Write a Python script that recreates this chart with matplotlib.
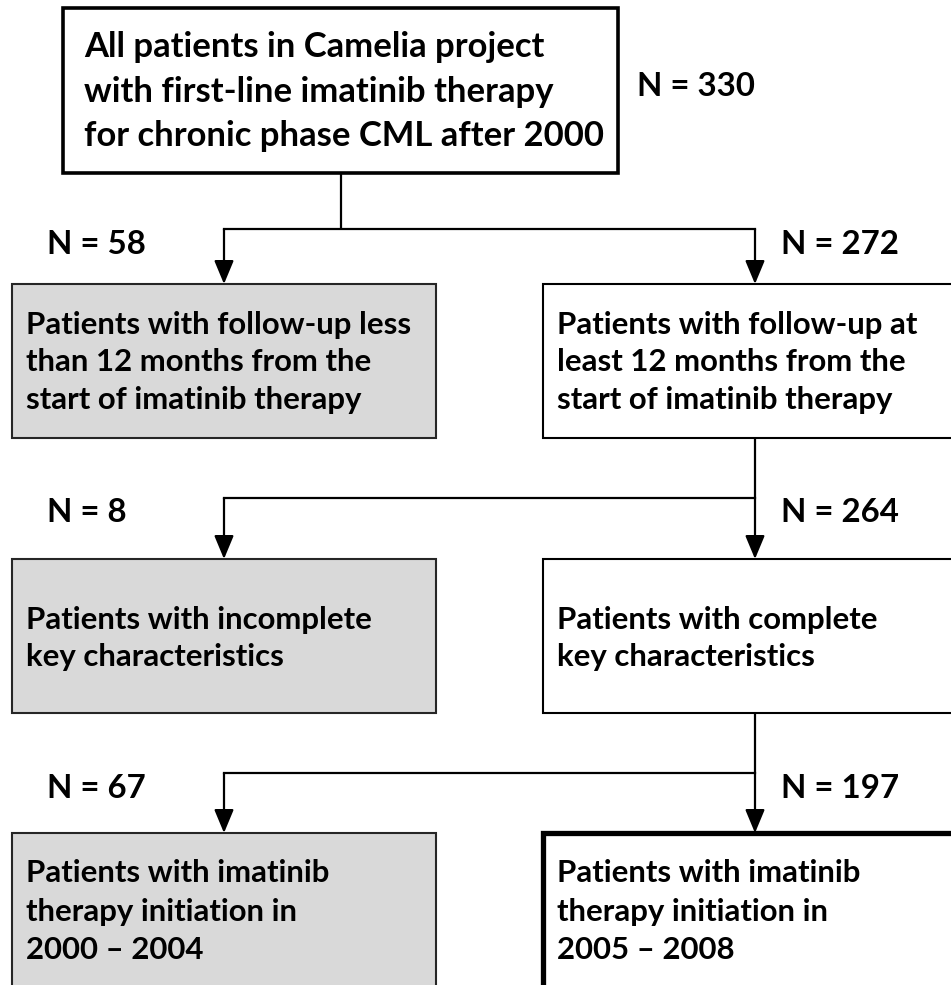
import matplotlib
matplotlib.use("Agg")
import matplotlib.pyplot as plt
from matplotlib.patches import Rectangle

# ---------------- data ----------------
top_lines = ["All patients in Camelia project",
             "with first-line imatinib therapy",
             "for chronic phase CML after 2000"]
top_n = 330

left_lines = [["Patients with follow-up less", "than 12 months from the", "start of imatinib therapy"],
              ["Patients with incomplete", "key characteristics", ""],
              ["Patients with imatinib", "therapy initiation in", "2000 \u2013 2004"]]
left_n = [58, 8, 67]

right_lines = [["Patients with follow-up at", "least 12 months from the", "start of imatinib therapy"],
               ["Patients with complete", "key characteristics", ""],
               ["Patients with imatinib", "therapy initiation in", "2005 \u2013 2008"]]
right_n = [272, 264, 197]

# ---------------- layout (pixels) ----------------
W, H = 951, 985
FONT = "Lato"
top_box = (63, 8, 618, 173)
row_tops = [284, 559, 833]
row_bots = [438, 713, 1000]
split_y = [229, 498, 773]
lx0, lx1 = 12, 436
rx0, rx1 = 543, 970
left_arrow_x = 224
right_arrow_x = 755
top_stem_x = 341

fig = plt.figure(figsize=(W / 100, H / 100), dpi=100)
ax = fig.add_axes([0, 0, 1, 1])
ax.set_xlim(0, W)
ax.set_ylim(H, 0)
ax.axis("off")
renderer = fig.canvas.get_renderer()


def fit_size(text, width_px, start=20):
    t = ax.text(0, 0, text, fontsize=start, fontweight="bold", family=FONT)
    w = t.get_window_extent(renderer).width
    t.remove()
    return start * width_px / w


# font sizes fitted to measured widths (slightly enlarged: Lato is wider than the original face)
top_fs = fit_size(top_lines[2], 520)
box_fs = fit_size(left_lines[0][0], 385)
n_fs = fit_size("N = 330", 118)

# top box
ax.add_patch(Rectangle((top_box[0], top_box[1]), top_box[2] - top_box[0], top_box[3] - top_box[1],
                       facecolor="white", edgecolor="black", linewidth=2.6, zorder=2))
for i, line in enumerate(top_lines):
    ax.text(84, 47 + 44.5 * i, line, fontsize=top_fs, fontweight="bold", family=FONT,
            va="center", ha="left", zorder=3)
ax.text(637, 87, f"N = {top_n}", fontsize=n_fs, fontweight="bold", family=FONT,
        va="center", ha="left")

lw = 1.6


def arrow(x, y0, y1):
    ax.annotate("", xy=(x, y1), xytext=(x, y0),
                arrowprops=dict(arrowstyle="-|>,head_length=1.2,head_width=0.5",
                                mutation_scale=12, color="black", lw=lw,
                                shrinkA=0, shrinkB=0), zorder=4)


line_offsets = [[325, 362, 400], [620, 657, 694], [873, 912, 950]]

for r in range(3):
    # connectors
    src_x = top_stem_x if r == 0 else right_arrow_x
    src_y = top_box[3] if r == 0 else row_bots[r - 1]
    ax.plot([src_x, src_x], [src_y, split_y[r]], color="black", lw=lw, solid_capstyle="butt")
    ax.plot([left_arrow_x, right_arrow_x], [split_y[r], split_y[r]], color="black", lw=lw,
            solid_capstyle="projecting")
    arrow(left_arrow_x, split_y[r], row_tops[r])
    arrow(right_arrow_x, split_y[r], row_tops[r])

    # N labels
    ny = split_y[r] + 15
    ax.text(47, ny, f"N = {left_n[r]}", fontsize=n_fs, fontweight="bold", family=FONT,
            va="center", ha="left")
    ax.text(781, ny, f"N = {right_n[r]}", fontsize=n_fs, fontweight="bold", family=FONT,
            va="center", ha="left")

    # boxes
    ax.add_patch(Rectangle((lx0, row_tops[r]), lx1 - lx0, row_bots[r] - row_tops[r],
                           facecolor="#d9d9d9", edgecolor="#262626", linewidth=1.5, zorder=2))
    thick = 3.8 if r == 2 else 1.5
    ax.add_patch(Rectangle((rx0, row_tops[r]), rx1 - rx0, row_bots[r] - row_tops[r],
                           facecolor="white", edgecolor="black", linewidth=thick, zorder=2))
    for i in range(3):
        ax.text(26, line_offsets[r][i], left_lines[r][i], fontsize=box_fs, fontweight="bold",
                family=FONT, va="center", ha="left", zorder=3)
        ax.text(557, line_offsets[r][i], right_lines[r][i], fontsize=box_fs, fontweight="bold",
                family=FONT, va="center", ha="left", zorder=3)

fig.savefig("out.png", dpi=100, facecolor="white")
